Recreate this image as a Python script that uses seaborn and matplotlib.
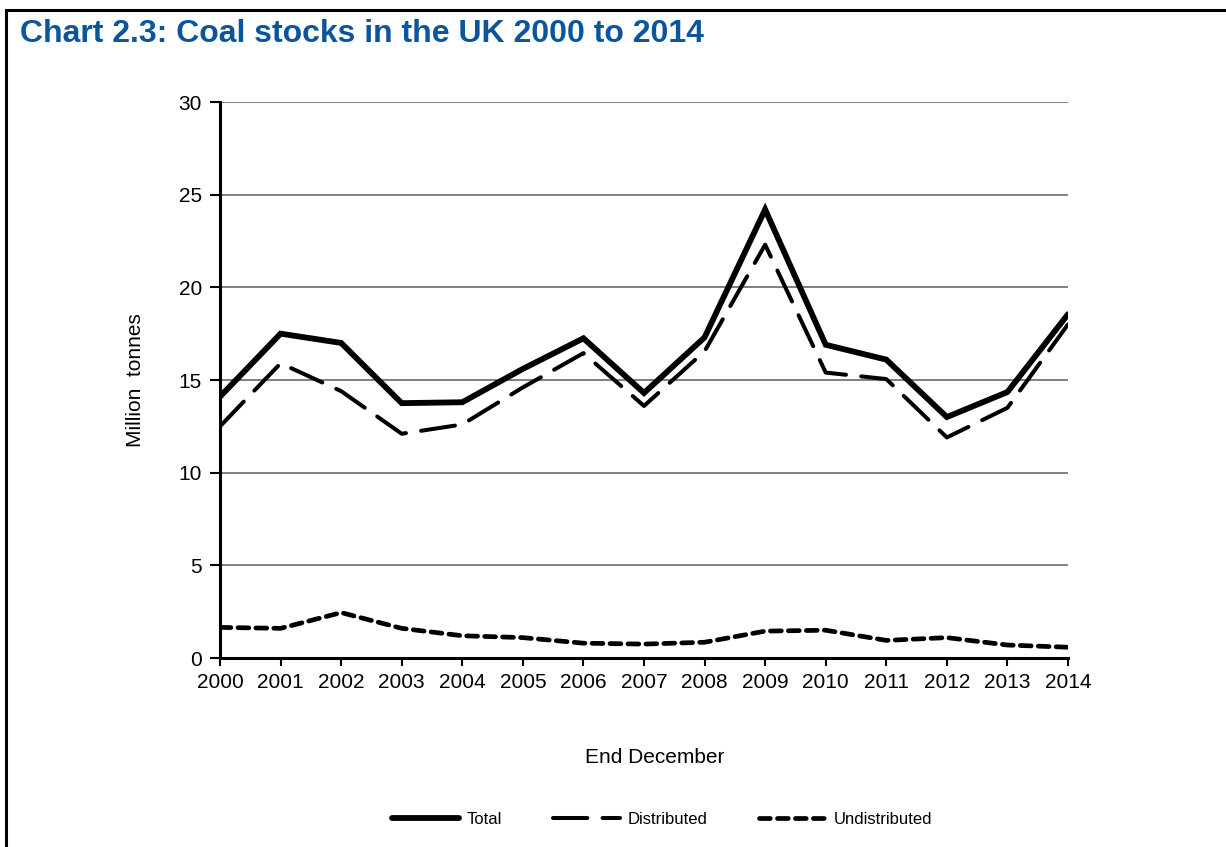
import pandas as pd
import matplotlib.pyplot as plt
import seaborn as sns
from matplotlib.patches import Rectangle

years = list(range(2000, 2015))
total = [14.1, 17.5, 17.0, 13.75, 13.8, 15.6, 17.25, 14.3, 17.3, 24.2, 16.9, 16.1, 13.0, 14.35, 18.55]
distributed = [12.5, 15.9, 14.4, 12.1, 12.6, 14.6, 16.45, 13.6, 16.55, 22.3, 15.4, 15.05, 11.9, 13.5, 18.0]
undistributed = [1.65, 1.6, 2.45, 1.6, 1.2, 1.1, 0.8, 0.75, 0.85, 1.45, 1.5, 0.95, 1.1, 0.7, 0.58]

series_names = ['Total', 'Distributed', 'Undistributed']
series_values = [total, distributed, undistributed]

df = pd.DataFrame({'Year': years})
for name, vals in zip(series_names, series_values):
    df[name] = vals
long_df = df.melt(id_vars='Year', var_name='Series', value_name='Stocks')

sns.set_theme(style='white')
plt.rcParams['font.family'] = ['Liberation Sans', 'DejaVu Sans']

fig = plt.figure(figsize=(12.26, 8.47), dpi=100)
ax = fig.add_axes([220 / 1226, 1 - 658 / 847, 848 / 1226, 556 / 847])

styles = {
    'Total': dict(lw=4.2, dashes=None),
    'Distributed': dict(lw=2.9, dashes=(8.5, 3.8)),
    'Undistributed': dict(lw=3.4, dashes=(2.3, 1.5)),
}
for name in series_names:
    sub = long_df[long_df['Series'] == name]
    st = styles[name]
    line_ax = sns.lineplot(data=sub, x='Year', y='Stocks', color='black', lw=st['lw'],
                           label=name, ax=ax, legend=False)
    ln = line_ax.lines[-1]
    ln.set_solid_joinstyle('miter')
    if st['dashes'] is not None:
        ln.set_dashes(st['dashes'])
        ln.set_dash_capstyle('round')

ax.set_xlim(2000, 2014)
ax.set_ylim(0, 30)
ax.set_xticks(years)
ax.set_xticklabels([str(y) for y in years])
ax.set_yticks(range(0, 31, 5))
ax.yaxis.grid(True, color='#7f7f7f', lw=1.4)
ax.set_axisbelow(True)
for side in ['top', 'right']:
    ax.spines[side].set_visible(False)
for side in ['left', 'bottom']:
    ax.spines[side].set_color('black')
    ax.spines[side].set_linewidth(2.2)
ax.tick_params(axis='y', direction='out', length=7, width=1.5, color='black',
               labelsize=15, pad=6, left=True, labelcolor='black')
ax.tick_params(axis='x', direction='out', length=6, width=1.5, color='black',
               labelsize=15, pad=5, bottom=True, labelcolor='black')
ax.set_xlabel('End December', fontsize=15, color='black')
ax.set_ylabel('Million  tonnes', fontsize=15, color='black')
ax.xaxis.set_label_coords(0.513, -0.162)
ax.yaxis.set_label_coords(-0.089, 0.5)

fig.text(20 / 1226, 1 - 42 / 847, 'Chart 2.3: Coal stocks in the UK 2000 to 2014',
         fontsize=23, fontweight='bold', color='#0B559C')

handles, labels = ax.get_legend_handles_labels()
fig.legend(handles, labels, loc='center', bbox_to_anchor=(0.54, 1 - 819 / 847), ncol=3,
           frameon=False, fontsize=12, handlelength=4.0, columnspacing=3.1,
           handletextpad=0.45, labelcolor='black')

fig.add_artist(Rectangle((6 / 1226, -0.1), 1.2, 1.1 - 10 / 847, transform=fig.transFigure,
                         fill=False, edgecolor='black', lw=2.2))

fig.savefig('out.png', dpi=100)
